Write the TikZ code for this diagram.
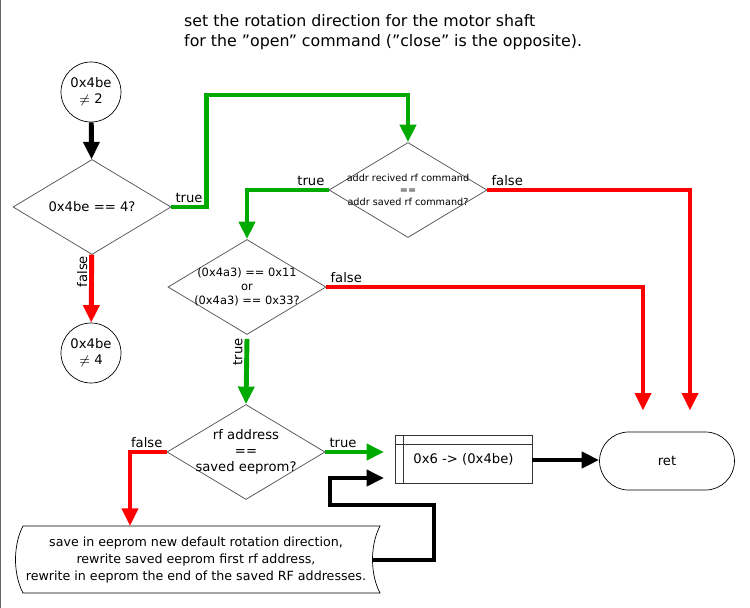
\documentclass[tikz,border=0pt]{standalone}
\usepackage{fontspec}
\defaultfontfeatures{}
\setmainfont{DejaVu Sans}
\usetikzlibrary{shapes.geometric,arrows.meta,calc}
\definecolor{yesgreen}{RGB}{0,170,0}
\definecolor{nored}{RGB}{255,0,0}
\tikzset{
    decision/.style = {diamond, draw = black!70, inner sep = -6pt, minimum width = 3.16cm, minimum height = 1.9cm, align = center, font = \fontsize{7.5}{9}\selectfont},
    state/.style = {circle, draw = black, minimum size = 1.2cm, inner sep = 0pt, align = center, font = \fontsize{7.5}{9}\selectfont},
    flow/.style = {line width = 2.8pt, -{Triangle[length = 10pt, width = 9pt]}},
    yes/.style = {flow, draw = yesgreen},
    no/.style = {flow, draw = nored},
    tag/.style = {font = \fontsize{7.5}{9}\selectfont, inner sep = 1pt}
}
\begin{document}
\begin{tikzpicture}[x = 0.02cm, y = -0.02cm]
    \useasboundingbox (0,0) rectangle (750,608);
    \draw [black!60] (0.5,0) -- (0.5,608);

    % Title:
    \node [anchor = north west, align = left, font = \fontsize{9}{11.5}\selectfont] (title) at (178,8)
        {set the rotation direction for the motor shaft\\for the "open" command ("close" is the opposite).};

    % States and decisions:
    \node [state] (start) at (91,92) {0x4be\\$\neq$ 2};
    \node [decision] (is4) at (92,207) {0x4be == 4?};
    \node [state] (not4) at (91,353) {0x4be\\$\neq$ 4};
    \node [decision, inner xsep = -14pt, font = \fontsize{5.5}{7}\selectfont] (cmd) at (408,190)
        {addr recived rf command\\==\\addr saved rf command?};
    \node [decision, inner sep = -9pt, font = \fontsize{6.5}{8}\selectfont] (code) at (247,287)
        {(0x4a3) == 0x11\\or\\(0x4a3) == 0x33?};
    \node [decision, inner sep = -9pt] (addr) at (246,452) {rf address\\==\\saved eeprom?};

    % Process box:
    \node [draw = black!80, minimum width = 2.74cm, minimum height = 0.96cm, font = \fontsize{7.5}{9}\selectfont] (set) at (463.5,459) {\raisebox{-5pt}{0x6 -> (0x4be)}};
    \draw [black!80] ($(set.north west)+(9,0)$) -- ($(set.south west)+(9,0)$);
    \draw [black!80] ($(set.north west)+(0,10)$) -- ($(set.north east)+(0,10)$);

    % Return terminal:
    \node [draw, rounded corners = 0.58cm, minimum width = 2.7cm, minimum height = 1.16cm, font = \fontsize{7.5}{9}\selectfont] (ret) at (667,461) {ret};

    % Tape:
    \draw (23,526) -- (380,526) .. controls (370,545) and (370,574) .. (380,593)
        -- (23,593) .. controls (13,574) and (13,545) .. (23,526);
    \node [align = center, font = \fontsize{7.2}{9.5}\selectfont] (save) at (196,560)
        {save in eeprom new default rotation direction,\\rewrite saved eeprom first rf address,\\rewrite in eeprom the end of the saved RF addresses.};
    \coordinate (tape) at (373,560);

    % Connectors:
    \draw [flow] (start) -- (is4);
    \draw [no] (is4) -- (not4) node [tag, pos = 0.25, left, rotate = 90, anchor = south] {false};
    \draw [yes] (is4.east) node [tag, above right] {true} -- ++(35,0) -- ++(0,-112) -| (cmd.north);
    \draw [yes] (cmd.west) node [tag, above left] {true} -| (code.north);
    \draw [no, shorten > = 12pt] (cmd.east) node [tag, above right] {false} -| (ret.north east -| 690,0);
    \draw [no, shorten > = 12pt] (code.east) node [tag, above right] {false} -| (ret.north -| 643,0);
    \draw [yes] (code.south) ++(0,4) -- (addr.north) node [tag, pos = 0.2, rotate = 90, anchor = south] {true};
    \draw [yes, shorten > = 6pt] (addr.east) node [tag, above right] {true} -- (set.west |- addr.east);
    \draw [no] (addr.west) node [tag, above left] {false} -| (130,526);
    \draw [flow] (set.east |- 0,460) -- (ret.west |- 0,460);
    \draw [flow, shorten > = 6pt] (tape) -| (434,505) -| (330,478) -- (set.west |- 0,478);
\end{tikzpicture}
\end{document}
